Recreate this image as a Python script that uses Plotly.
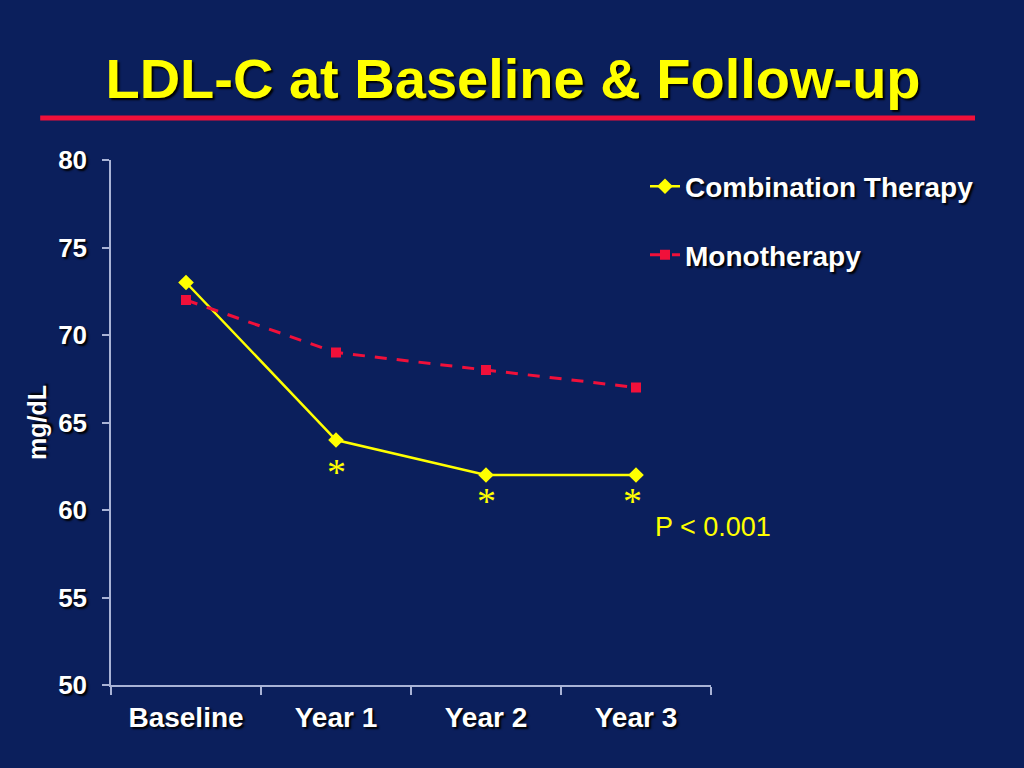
import plotly.graph_objects as go

categories = ["Baseline", "Year 1", "Year 2", "Year 3"]
combination = [73, 64, 62, 62]
monotherapy = [72, 69, 68, 67]
significant = [False, True, True, True]
y_ticks = [50, 55, 60, 65, 70, 75, 80]

BG = "#0B1F5C"
YELLOW = "#FFFF00"
RED = "#F0103A"
AXIS = "#A9B3D6"
SHADOW = "2px 2px 2px #000000"

fig = go.Figure()
fig.add_trace(go.Scatter(
    x=categories, y=combination, name="Combination Therapy", legendgroup="a",
    mode="lines+markers",
    line=dict(color=YELLOW, width=2.5),
    marker=dict(symbol="diamond", size=12, color=YELLOW),
))
fig.add_trace(go.Scatter(
    x=categories, y=monotherapy, name="Monotherapy", legendgroup="b",
    mode="lines+markers",
    line=dict(color=RED, width=3, dash="12px,10px"),
    marker=dict(symbol="square", size=10, color=RED),
))

shifts = {"Year 1": -32, "Year 2": -26, "Year 3": -26}
for cat, val, sig in zip(categories, combination, significant):
    if sig:
        fig.add_annotation(
            x=cat, y=val, xref="x", yref="y", text="*", showarrow=False,
            yshift=shifts[cat], xshift=-4 if cat == "Year 3" else 0,
            font=dict(family="Liberation Serif", size=38, color=YELLOW),
        )

fig.add_annotation(
    x=0.904, y=0.301, xref="paper", yref="paper", xanchor="left", yanchor="middle",
    text="P < 0.001", showarrow=False,
    font=dict(family="Liberation Sans", size=27, color=YELLOW),
)

fig.add_shape(
    type="line", xref="paper", yref="paper",
    x0=-0.118, x1=1.44, y0=1.08, y1=1.08,
    line=dict(color=RED, width=5),
)

fig.update_layout(
    width=1024, height=768,
    paper_bgcolor=BG, plot_bgcolor=BG,
    margin=dict(l=111, r=313, t=160, b=83, autoexpand=False),
    title=dict(
        text="LDL-C at Baseline & Follow-up",
        x=0.501, xref="container", xanchor="center",
        y=0.898, yref="container", yanchor="middle",
        font=dict(family="Liberation Sans", size=56, color=YELLOW,
                  weight="bold", shadow=SHADOW),
    ),
    showlegend=True,
    legend=dict(
        x=0.890, y=0.997, xanchor="left", yanchor="top",
        bgcolor="rgba(0,0,0,0)", borderwidth=0,
        tracegroupgap=29,
        font=dict(family="Liberation Sans", size=28, color="#FFFFFF",
                  weight="bold", shadow=SHADOW),
    ),
    xaxis=dict(
        type="category", range=[-0.5, 3.5],
        showgrid=False, zeroline=False,
        showline=True, linecolor=AXIS, linewidth=1.5,
        ticks="outside", tickson="boundaries", ticklen=8, tickcolor=AXIS, tickwidth=1.5,
        ticklabelstandoff=7,
        tickfont=dict(family="Liberation Sans", size=28, color="#FFFFFF",
                      weight="bold", shadow=SHADOW),
        automargin=False,
    ),
    yaxis=dict(
        range=[50, 80], tickvals=y_ticks,
        showgrid=False, zeroline=False,
        showline=True, linecolor=AXIS, linewidth=1.5,
        ticks="outside", ticklen=7, tickcolor=AXIS, tickwidth=1.5,
        ticklabelstandoff=10,
        tickfont=dict(family="Liberation Sans", size=26, color="#FFFFFF",
                      weight="bold", shadow=SHADOW),
        title=dict(text="mg/dL", standoff=4,
                   font=dict(family="Liberation Sans", size=25, color="#FFFFFF",
                             weight="bold", shadow=SHADOW)),
        automargin=False,
    ),
)

fig.write_html("out.html",
               config={"displayModeBar": False},
               post_script="document.body.style.margin='0';document.body.style.background='%s';" % BG)
